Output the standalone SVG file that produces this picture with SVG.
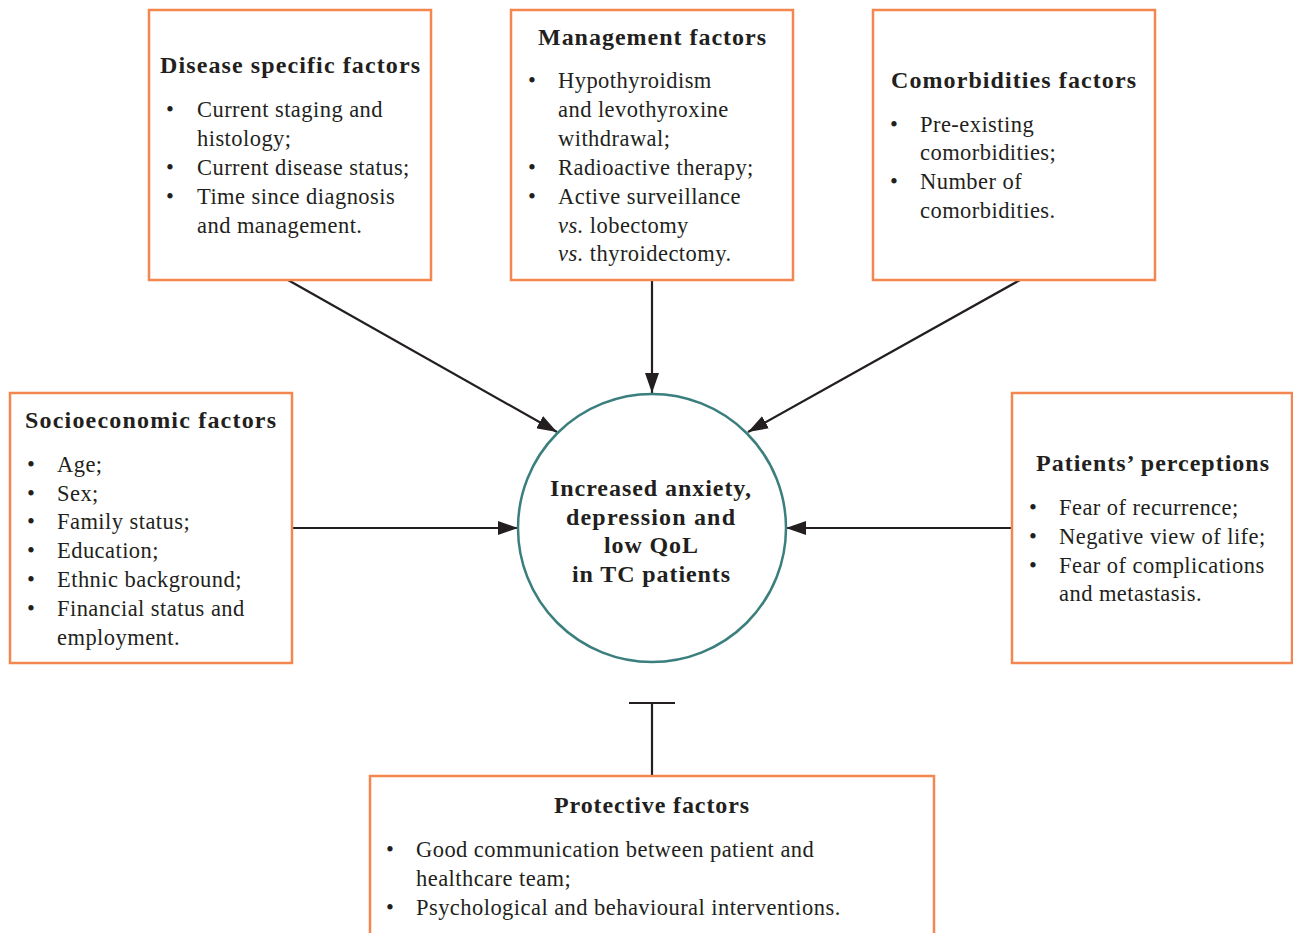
<svg xmlns="http://www.w3.org/2000/svg" width="1293" height="933" viewBox="0 0 1293 933">
<defs>
<style>
.box{fill:#fff;stroke:#F4874F;stroke-width:2.5}
.t{font-family:"Liberation Serif","Times New Roman",serif;font-size:22.5px;letter-spacing:0.45px;fill:#231f20}
.h{font-weight:bold;font-size:24px;letter-spacing:0}
.c{text-anchor:middle}
.ln{stroke:#231f20;stroke-width:2.2;fill:none}
</style>
<marker id="arr" viewBox="0 0 20 14" refX="20" refY="7" markerWidth="20" markerHeight="14" markerUnits="userSpaceOnUse" orient="auto">
<path d="M0,0 L20,7 L0,14 z" fill="#231f20"/>
</marker>
</defs>
<rect width="1293" height="933" fill="#fff"/>

<g id="connectors">
<line class="ln" x1="288" y1="280" x2="557" y2="432" marker-end="url(#arr)"/>
<line class="ln" x1="652" y1="280" x2="652" y2="393" marker-end="url(#arr)"/>
<line class="ln" x1="1020" y1="280" x2="748" y2="432" marker-end="url(#arr)"/>
<line class="ln" x1="293" y1="528" x2="518" y2="528" marker-end="url(#arr)"/>
<line class="ln" x1="1012" y1="528" x2="786" y2="528" marker-end="url(#arr)"/>
<line class="ln" x1="652" y1="776" x2="652" y2="703"/>
<line class="ln" x1="629" y1="703" x2="675" y2="703"/>
</g>

<g id="disease">
<rect class="box" x="149" y="10" width="282" height="270"/>
<text class="t h" x="160" y="73" textLength="260" lengthAdjust="spacing">Disease specific factors</text>
<text class="t" x="166" y="117">•</text>
<text class="t" x="197" y="117">Current staging and</text>
<text class="t" x="197" y="146">histology;</text>
<text class="t" x="166" y="175">•</text>
<text class="t" x="197" y="175">Current disease status;</text>
<text class="t" x="166" y="204">•</text>
<text class="t" x="197" y="204">Time since diagnosis</text>
<text class="t" x="197" y="233">and management.</text>
</g>

<g id="management">
<rect class="box" x="511" y="10" width="282" height="270"/>
<text class="t h" x="538" y="45" textLength="228" lengthAdjust="spacing">Management factors</text>
<text class="t" x="528" y="88">•</text>
<text class="t" x="558" y="88">Hypothyroidism</text>
<text class="t" x="558" y="117">and levothyroxine</text>
<text class="t" x="558" y="146">withdrawal;</text>
<text class="t" x="528" y="175">•</text>
<text class="t" x="558" y="175">Radioactive therapy;</text>
<text class="t" x="528" y="204">•</text>
<text class="t" x="558" y="204">Active surveillance</text>
<text class="t" x="558" y="233"><tspan font-style="italic">vs.</tspan> lobectomy</text>
<text class="t" x="558" y="261"><tspan font-style="italic">vs.</tspan> thyroidectomy.</text>
</g>

<g id="comorbidities">
<rect class="box" x="873" y="10" width="282" height="270"/>
<text class="t h" x="891" y="88" textLength="245" lengthAdjust="spacing">Comorbidities factors</text>
<text class="t" x="890" y="132">•</text>
<text class="t" x="920" y="132">Pre-existing</text>
<text class="t" x="920" y="160">comorbidities;</text>
<text class="t" x="890" y="189">•</text>
<text class="t" x="920" y="189">Number of</text>
<text class="t" x="920" y="218">comorbidities.</text>
</g>

<g id="socioeconomic">
<rect class="box" x="10" y="393" width="282" height="270"/>
<text class="t h" x="25" y="428" textLength="251" lengthAdjust="spacing">Socioeconomic factors</text>
<text class="t" x="27" y="472">•</text>
<text class="t" x="57" y="472">Age;</text>
<text class="t" x="27" y="501">•</text>
<text class="t" x="57" y="501">Sex;</text>
<text class="t" x="27" y="529">•</text>
<text class="t" x="57" y="529">Family status;</text>
<text class="t" x="27" y="558">•</text>
<text class="t" x="57" y="558">Education;</text>
<text class="t" x="27" y="587">•</text>
<text class="t" x="57" y="587">Ethnic background;</text>
<text class="t" x="27" y="616">•</text>
<text class="t" x="57" y="616">Financial status and</text>
<text class="t" x="57" y="645">employment.</text>
</g>

<g id="perceptions">
<rect class="box" x="1012" y="393" width="280" height="270"/>
<text class="t h" x="1036" y="471" textLength="233" lengthAdjust="spacing">Patients’ perceptions</text>
<text class="t" x="1029" y="515">•</text>
<text class="t" x="1059" y="515">Fear of recurrence;</text>
<text class="t" x="1029" y="544">•</text>
<text class="t" x="1059" y="544">Negative view of life;</text>
<text class="t" x="1029" y="573">•</text>
<text class="t" x="1059" y="573">Fear of complications</text>
<text class="t" x="1059" y="601">and metastasis.</text>
</g>

<g id="outcome">
<circle cx="652" cy="528" r="134" fill="#fff" stroke="#3A7F7D" stroke-width="2.5"/>
<text class="t h" x="550" y="496" textLength="201" lengthAdjust="spacing">Increased anxiety,</text>
<text class="t h" x="566" y="525" textLength="169" lengthAdjust="spacing">depression and</text>
<text class="t h" x="604" y="553" textLength="94" lengthAdjust="spacing">low QoL</text>
<text class="t h" x="572" y="582" textLength="158" lengthAdjust="spacing">in TC patients</text>
</g>

<g id="protective">
<rect class="box" x="370" y="776" width="564" height="170"/>
<text class="t h" x="554" y="813" textLength="195" lengthAdjust="spacing">Protective factors</text>
<text class="t" x="386" y="857">•</text>
<text class="t" x="416" y="857">Good communication between patient and</text>
<text class="t" x="416" y="886">healthcare team;</text>
<text class="t" x="386" y="915">•</text>
<text class="t" x="416" y="915">Psychological and behavioural interventions.</text>
</g>
</svg>
